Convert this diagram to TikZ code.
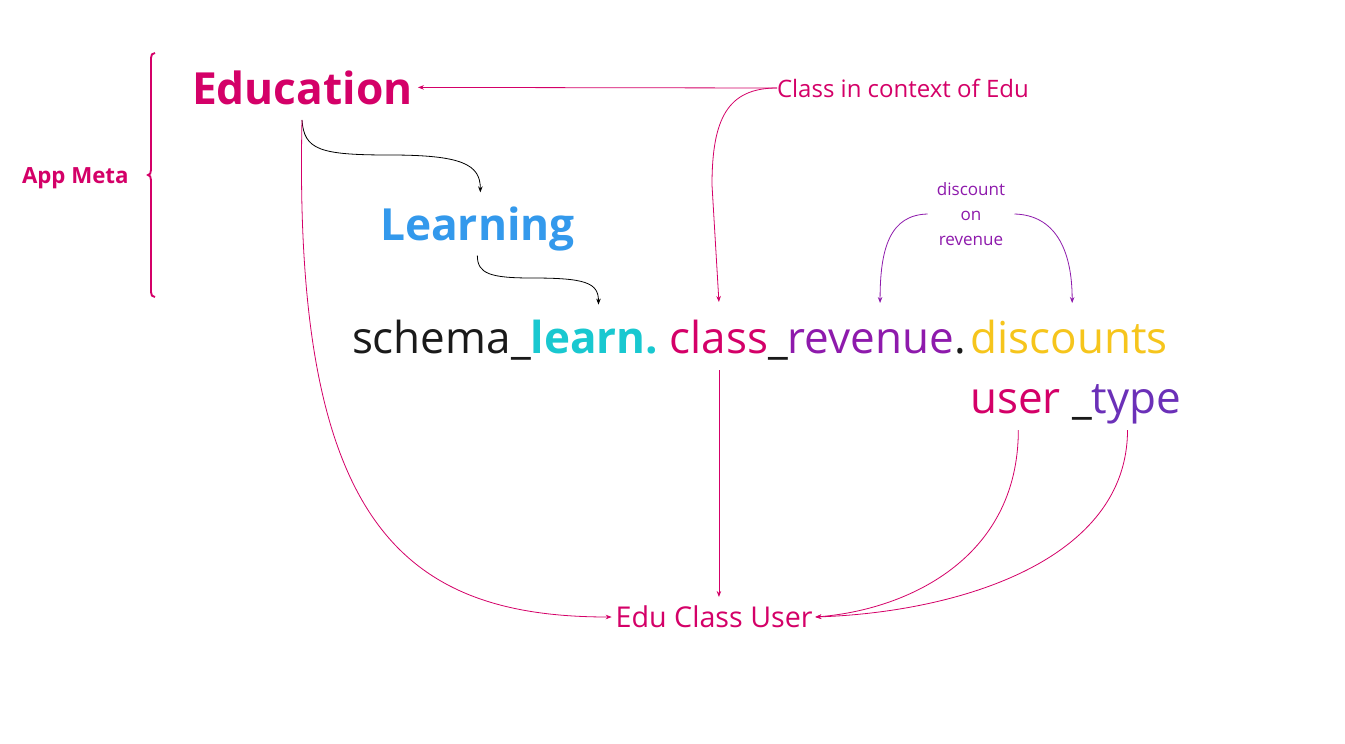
\documentclass[tikz,border=0pt]{standalone}
\usepackage{fontspec}
\setmainfont{Open Sans}
\usetikzlibrary{arrows.meta,calc}
\definecolor{edupink}{RGB}{212,0,104}
\definecolor{learnblue}{RGB}{51,153,236}
\definecolor{cyanl}{RGB}{25,200,208}
\definecolor{revpurple}{RGB}{142,26,172}
\definecolor{discyellow}{RGB}{246,197,28}
\definecolor{typepurple}{RGB}{107,48,184}
\definecolor{inkblack}{RGB}{26,26,26}
\begin{document}
\begin{tikzpicture}[x=0.75pt,y=-0.75pt,
  txt/.style={inner sep=0pt, outer sep=0pt},
  bigreg/.style={txt, font=\fontsize{33}{40}\selectfont},
  bigbold/.style={txt, font=\fontsize{33.2}{40}\selectfont\bfseries},
  conn/.style={line width=0.6pt, -{Stealth[length=4.5pt,width=3.4pt]}},
]
\useasboundingbox (0,0) rectangle (1345,743);
\fill[white] (0,0) rectangle (1345,743);

% --- nodes ---
\node[bigbold, text=edupink, anchor=base west] (edu) at (192,104) {Education};
\node[bigbold, text=learnblue, anchor=base west] (learn) at (380,240) {Learning};
\node[txt, font=\fontsize{16.7}{20}\selectfont\bfseries, text=edupink, anchor=base west] (app) at (22,183) {App Meta};
\node[txt, font=\fontsize{18}{22}\selectfont, text=edupink, anchor=west] (cic) at (777,88) {Class in context of Edu};
\node[txt, inner xsep=7pt, font=\fontsize{12.8}{18.75}\selectfont, text=revpurple, align=center] (dor) at (971,214) {discount\\on\\revenue};

\node[bigreg, text=inkblack, anchor=base west] (s1) at (352,353) {schema\_};
\node[bigbold, font=\fontsize{33}{40}\selectfont\bfseries, text=cyanl, anchor=base west] (s2) at (s1.base east) {learn.};
\node[bigreg, text=edupink, anchor=base west] (s3) at ([xshift=8.6pt]s2.base east) {class};
\node[bigreg, text=inkblack, anchor=base west] (s3u) at (s3.base east) {\_};
\node[bigreg, text=revpurple, anchor=base west] (s4) at (s3u.base east) {revenue};
\node[bigreg, text=inkblack, anchor=base west] (s5) at (s4.base east) {.};
\node[bigreg, text=discyellow, anchor=base west] (s6) at ([xshift=3.5pt]s5.base east) {discounts};

\node[bigreg, text=edupink, anchor=base west] (u1) at (970,413) {user};
\node[bigreg, text=inkblack, anchor=base west] (u2) at ([xshift=8.6pt]u1.base east) {\_};
\node[bigreg, text=typepurple, anchor=base west] (u3) at (u2.base east) {type};

\node[txt, inner xsep=2pt, font=\fontsize{21.5}{26}\selectfont, text=edupink, anchor=west] (ecu) at (613,617) {Edu Class User};

% --- bracket ---
\draw[edupink, line width=1.4pt] (155,53) .. controls (152,53) and (151,55) .. (151,58) -- (151,170)
  .. controls (151,173) and (150,175) .. (148,175) .. controls (150,175) and (151,177) .. (151,180)
  -- (151,292) .. controls (151,295) and (152,297) .. (155,297);

% --- coordinates ---
\coordinate (eduB) at ($(edu.base west)+(110,16)$);
\coordinate (learnT) at ($(learn.north)+(3,-14)$);
\coordinate (learnB) at ($(learn.south)+(0,5)$);
\coordinate (s2T) at ($(s2.north)+(4,-15)$);
\coordinate (clsT) at ($(s3.base)+(0,-51)$);
\coordinate (clsB) at ($(s3.base)+(0,17)$);
\coordinate (ecuT) at ($(ecu.north)+(0,-9)$);
\coordinate (u1B) at ($(u1.base)+(3,17)$);
\coordinate (u3B) at ($(u3.base)+(-9,17)$);
\coordinate (revT) at ($(s4.base)+(9,-50)$);
\coordinate (discT) at ($(s6.base)+(3,-50)$);

% --- connectors ---
\draw[conn, edupink] (cic.west) -- ([xshift=4pt]edu.east);
\draw[conn, edupink] (cic.west) .. controls (728,88) and (712,118) .. (712,185) -- (clsT);
\draw[conn, black] (eduB) .. controls ($(eduB)+(2,30)$) and (320,155) .. (390,155)
  .. controls (462,155) and ($(learnT)+(0,-28)$) .. (learnT);
\draw[conn, black] (learnB) .. controls ($(learnB)+(0,18)$) and (490,278) .. (532,278)
  .. controls (585,278) and ($(s2T)+(0,-22)$) .. (s2T);
\draw[conn, edupink] (eduB) .. controls (293,520) and (400,617) .. ([xshift=-1pt]ecu.west);
\draw[conn, edupink] (clsB) -- (clsB |- ecuT);
\draw[conn, edupink] (u1B) .. controls ($(u1B)+(0,130)$) and (905,610) .. (ecu.east);
\draw[conn, edupink] (u3B) .. controls ($(u3B)+(0,130)$) and (960,612) .. (ecu.east);
\draw[conn, revpurple] (dor.west) .. controls (890,215) and ($(revT)+(0,-55)$) .. (revT);
\draw[conn, revpurple] (dor.east) .. controls (1054,215) and ($(discT)+(0,-55)$) .. (discT);
\end{tikzpicture}
\end{document}
